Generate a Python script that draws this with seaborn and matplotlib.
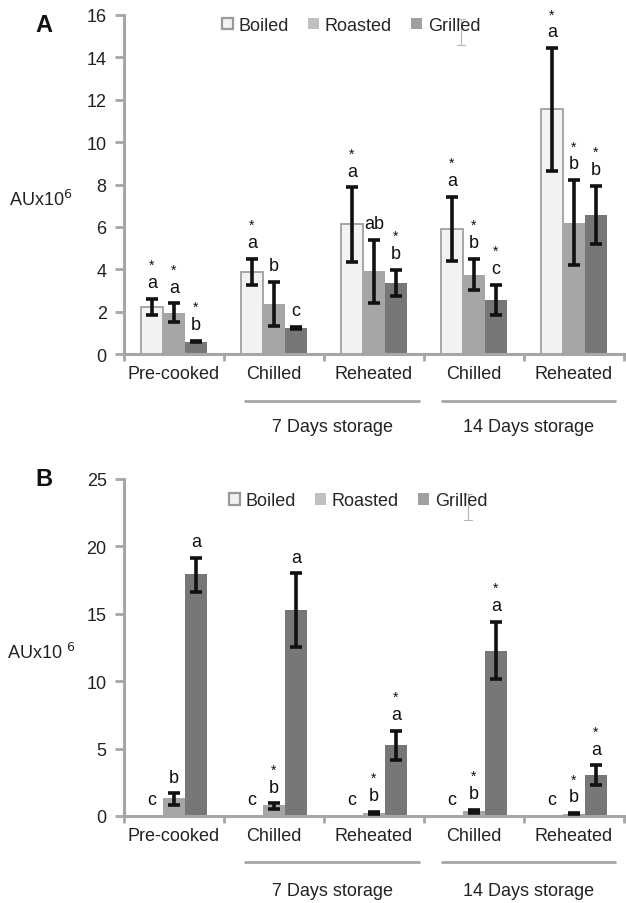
import numpy as np
import pandas as pd
import seaborn as sns
import matplotlib.pyplot as plt
from matplotlib.patches import Patch
from matplotlib.lines import Line2D

sns.set_style('white')
plt.rcParams['font.family'] = ['Liberation Sans', 'DejaVu Sans']

# categories
stage_keys = ['pre', 'chill7', 'reheat7', 'chill14', 'reheat14']
stage_labels = ['Pre-cooked', 'Chilled', 'Reheated', 'Chilled', 'Reheated']
methods = ['Boiled', 'Roasted', 'Grilled']
storage_labels = ['7 Days storage', '14 Days storage']

# Panel A values (AUx10^6), error bar ends
a_boiled = [2.22, 3.86, 6.12, 5.92, 11.56]
a_boiled_lo = [1.84, 3.27, 4.34, 4.39, 8.65]
a_boiled_hi = [2.61, 4.48, 7.86, 7.42, 14.43]
a_roasted = [1.95, 2.34, 3.94, 3.72, 6.20]
a_roasted_lo = [1.52, 1.30, 2.42, 3.02, 4.20]
a_roasted_hi = [2.39, 3.39, 5.39, 4.48, 8.20]
a_grilled = [0.58, 1.23, 3.34, 2.56, 6.58]
a_grilled_lo = [0.55, 1.20, 2.73, 1.83, 5.20]
a_grilled_hi = [0.61, 1.27, 3.98, 3.25, 7.94]
a_letters = [['a', 'a', 'b'], ['a', 'b', 'c'], ['a', 'ab', 'b'], ['a', 'b', 'c'], ['a', 'b', 'b']]
a_stars = [[1, 1, 1], [1, 0, 0], [1, 0, 1], [1, 1, 1], [1, 1, 1]]

# Panel B values
b_boiled = [0, 0, 0, 0, 0]
b_boiled_lo = [0, 0, 0, 0, 0]
b_boiled_hi = [0, 0, 0, 0, 0]
b_roasted = [1.31, 0.79, 0.25, 0.35, 0.15]
b_roasted_lo = [0.79, 0.54, 0.17, 0.25, 0.12]
b_roasted_hi = [1.68, 0.94, 0.32, 0.45, 0.20]
b_grilled = [17.98, 15.26, 5.27, 12.24, 3.07]
b_grilled_lo = [16.6, 12.55, 4.13, 10.16, 2.33]
b_grilled_hi = [19.13, 18.0, 6.31, 14.39, 3.76]
b_letters = [['c', 'b', 'a'], ['c', 'b', 'a'], ['c', 'b', 'a'], ['c', 'b', 'a'], ['c', 'b', 'a']]
b_stars = [[0, 0, 0], [0, 1, 0], [0, 1, 1], [0, 1, 1], [0, 1, 1]]

bar_colors = {'Boiled': '#f2f2f2', 'Roasted': '#a6a6a6', 'Grilled': '#777777'}
legend_colors = {'Boiled': '#f2f2f2', 'Roasted': '#bfbfbf', 'Grilled': '#a0a0a0'}
axis_gray = '#a6a6a6'
FS = 13

W, H = 626, 904
fig = plt.figure(figsize=(W / 100, H / 100), dpi=100)


def px_axes(left, top, right, bottom):
    return fig.add_axes([left / W, 1 - bottom / H, (right - left) / W, (bottom - top) / H])


def draw_panel(ax, vals, los, his, letters, stars, ymax, ystep, letter, ylab, leg_xy, line_y, text_y, ebar_leg):
    rows = []
    for m, v in zip(methods, vals):
        for k, y in zip(stage_keys, v):
            rows.append({'stage': k, 'method': m, 'value': y})
    df = pd.DataFrame(rows)
    sns.barplot(data=df, x='stage', y='value', hue='method', order=stage_keys,
                hue_order=methods, palette=bar_colors, width=0.66, errorbar=None,
                linewidth=0, legend=False, ax=ax)

    bar_conts = list(ax.containers)
    for mi, cont in enumerate(bar_conts):
        for si, patch in enumerate(cont.patches):
            xc = patch.get_x() + patch.get_width() / 2
            if methods[mi] == 'Boiled':
                patch.set_edgecolor('#a0a0a0')
                patch.set_linewidth(1.3)
            mean = vals[mi][si]
            lo, hi = los[mi][si], his[mi][si]
            if hi > lo:
                ax.errorbar(xc, mean, yerr=[[mean - lo], [hi - mean]], fmt='none',
                            ecolor='#111111', elinewidth=2.6, capsize=4, capthick=2.6, zorder=5)
            ax.annotate(letters[si][mi], (xc, hi), xytext=(0, 8.5), textcoords='offset points',
                        ha='center', va='baseline', fontsize=FS, color='#111111')
            if stars[si][mi]:
                ax.annotate('*', (xc, hi), xytext=(0, 21.5), textcoords='offset points',
                            ha='center', va='baseline', fontsize=10, color='#111111')

    ax.set_xlim(-0.5, 4.5)
    ax.set_ylim(0, ymax)
    ax.set_yticks(np.arange(0, ymax + 0.1, ystep))
    ax.set_xticks(range(5))
    ax.set_xticklabels(stage_labels)
    ax.set_xticks(np.arange(-0.5, 4.6, 1), minor=True)
    ax.set_xlabel('')
    ax.set_ylabel('')
    sns.despine(ax=ax)
    for s in ['left', 'bottom']:
        ax.spines[s].set_color(axis_gray)
        ax.spines[s].set_linewidth(2.2)
    ax.tick_params(axis='y', which='major', length=6.5, width=2, color=axis_gray,
                   pad=6, labelsize=FS, labelcolor='#222222', direction='out', left=True)
    ax.tick_params(axis='x', which='major', length=0, pad=8, labelsize=FS, labelcolor='#222222')
    ax.tick_params(axis='x', which='minor', length=5, width=2, color=axis_gray, direction='out', bottom=True)

    # storage group lines and labels
    for (x0, x1), lab in zip([(0.71, 2.45), (2.68, 4.41)], storage_labels):
        ax.add_line(Line2D([x0, x1], [line_y, line_y], color=axis_gray, lw=2,
                           transform=ax.get_xaxis_transform(), clip_on=False))
        ax.text((x0 + x1) / 2, text_y, lab, transform=ax.get_xaxis_transform(),
                ha='center', va='center', fontsize=FS, color='#222222')

    handles = [Patch(facecolor=legend_colors[m], edgecolor='#999999' if m == 'Boiled' else 'none',
                     linewidth=1.6 if m == 'Boiled' else 0, label=m) for m in methods]
    ax.legend(handles=handles, loc='center', bbox_to_anchor=leg_xy, ncol=3, frameon=False,
              fontsize=FS, handlelength=0.6, handleheight=0.6, handletextpad=0.3,
              columnspacing=1.1, borderaxespad=0)

    # stray error bar glyph from the legend
    ex, ey0, ey1 = ebar_leg
    for seg in ([ex, ex], [ey0, ey1]), ([ex - 0.008, ex + 0.008], [ey0, ey0]), ([ex - 0.008, ex + 0.008], [ey1, ey1]):
        ax.add_line(Line2D(seg[0], seg[1], color='#b5b5b5', lw=0.8, transform=ax.transAxes, clip_on=False))

    ax.text(-0.166, ylab[1], ylab[0], transform=ax.transAxes, ha='center', va='center',
            fontsize=FS, color='#222222')
    ax.text(-0.16, letter[1], letter[0], transform=ax.transAxes, ha='center', va='center',
            fontsize=17, fontweight='bold', color='#111111')


axA = px_axes(124, 16, 624, 355)
draw_panel(axA,
           [a_boiled, a_roasted, a_grilled],
           [a_boiled_lo, a_roasted_lo, a_grilled_lo],
           [a_boiled_hi, a_roasted_hi, a_grilled_hi],
           a_letters, a_stars, 16, 2,
           ('A', 0.973), ('AUx10$^6$', 0.457), (0.454, 0.97), -0.139, -0.215,
           (0.674, 0.988, 0.912))

axB = px_axes(124, 480, 624, 817)
draw_panel(axB,
           [b_boiled, b_roasted, b_grilled],
           [b_boiled_lo, b_roasted_lo, b_grilled_lo],
           [b_boiled_hi, b_roasted_hi, b_grilled_hi],
           b_letters, b_stars, 25, 5,
           ('B', 1.0), ('AUx10 $^6$', 0.487), (0.468, 0.935), -0.137, -0.22,
           (0.688, 0.955, 0.878))

fig.savefig('out.png', dpi=100)
